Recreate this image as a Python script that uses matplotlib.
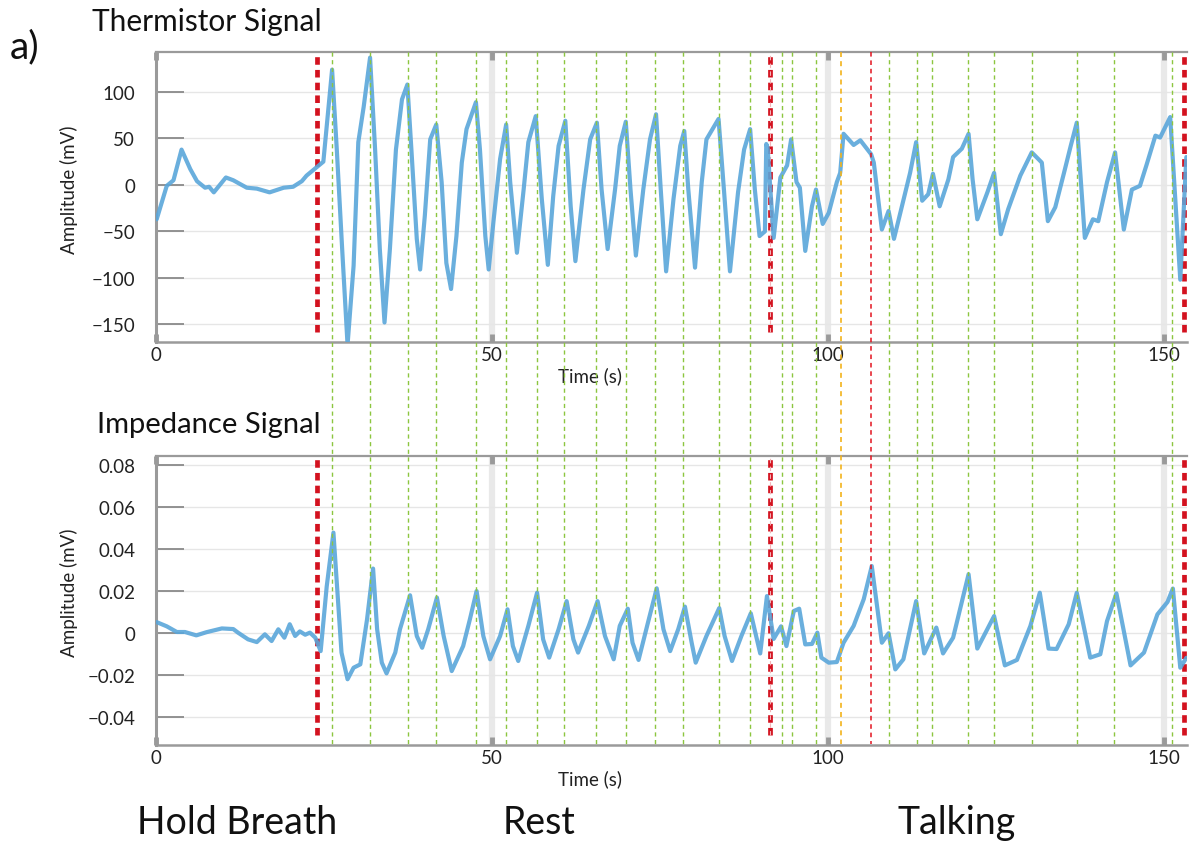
import matplotlib
matplotlib.use("Agg")
import matplotlib.pyplot as plt
from matplotlib.lines import Line2D
from matplotlib.transforms import blended_transform_factory

plt.rcParams['font.family'] = ['Lato', 'DejaVu Sans']

# ---------------- data ----------------
thermo_t = [0.1, 1.6, 2.6, 3.8, 5.1, 6.1, 7.3, 7.9, 8.6, 10.4, 11.5, 13.5, 15.0, 16.9, 19.0,
            20.4, 21.7, 22.4, 23.9, 24.9,
            26.2, 26.9, 27.7, 28.5, 29.4, 30.1, 30.9, 31.85, 32.6, 33.3, 34.0, 34.8, 35.7,
            36.6, 37.4, 38.0, 38.8, 39.3, 40.0, 40.8, 41.7, 42.5, 43.2, 43.9, 44.7, 45.5,
            46.2, 47.6, 48.2, 49.0, 49.5, 50.2, 51.2, 52.1, 52.7, 53.7, 54.7, 55.4, 56.5,
            57.4, 58.3, 59.1, 59.9, 60.9, 61.7, 62.4, 63.6, 64.6, 65.6, 66.3, 67.2, 68.3,
            69.0, 69.9, 70.6, 71.4, 72.5, 73.5, 74.4, 75.1, 75.9, 77.0, 78.0, 78.6, 79.2,
            80.2, 81.2, 81.9, 83.7, 84.5, 85.4, 86.6, 87.5, 88.4, 89.1, 89.8,
            90.6, 90.8, 91.0, 91.9, 92.9, 93.9, 94.5, 95.3, 95.8, 96.6, 97.6, 98.2, 99.2,
            100.1, 101.3, 101.8, 102.3, 103.8, 104.8, 106.4, 106.8, 108.0, 109.0, 109.8,
            112.2, 113.1, 114.0, 114.9, 115.6, 116.6, 117.9, 118.6, 119.9, 120.9, 121.5,
            122.2, 123.7, 124.7, 125.7, 126.8, 128.6, 130.3, 131.8, 132.7, 133.8, 135.1,
            136.1, 137.0, 138.2, 139.4, 140.2, 141.5, 142.7, 144.0, 145.2, 146.4, 147.4,
            148.7, 149.4, 150.9, 152.4, 153.3]
thermo_v = [-37, -1, 5, 38, 17, 4, -3, -2, -8, 8, 5, -3, -4, -8, -3,
            -2, 4, 10, 19, 25,
            124, 38, -69, -172, -87, 46, 84, 137, 38, -69, -148, -69, 38,
            92, 108, 38, -58, -91, -33, 49, 65, 3, -84, -112, -55, 24,
            60, 89, 38, -55, -91, -40, 28, 65, 3, -73, -5, 46, 74,
            -15, -86, -12, 42, 69, -23, -82, -5, 49, 67, -5, -69, -5,
            42, 68, -5, -76, -5, 49, 76, -5, -93, -15, 42, 58, -5,
            -89, 3, 49, 71, -5, -93, -8, 38, 60, -5, -55,
            -50, 44, 40, -57, 8, 21, 49, 3, -3, -71, -23, -5, -42,
            -30, 3, 13, 55, 43, 48, 33, 24, -48, -28, -58,
            13, 46, -17, -10, 12, -23, 6, 30, 39, 55, 6,
            -37, -8, 13, -53, -26, 10, 35, 24, -39, -24, 13,
            42, 67, -57, -37, -39, 3, 35, -48, -5, -1, 22,
            53, 51, 73, -102, 30]

imp_t = [0.1, 1.6, 3.1, 4.3, 6.0, 7.5, 9.8, 11.5, 12.2, 13.7, 15.0, 16.2, 17.2, 18.2, 19.1,
         19.9, 20.7, 21.4, 22.2, 22.9, 23.7, 24.5, 25.4, 26.4, 27.1, 27.6, 28.5, 29.4, 30.4,
         31.4, 32.3, 32.9, 33.6, 34.3, 35.6, 36.3, 37.8, 38.8, 39.6, 40.5, 41.8, 42.8, 44.0,
         45.7, 46.7, 47.7, 48.7, 49.7, 51.2, 52.3, 53.1, 53.9, 55.4, 56.7, 57.6, 58.5, 59.9,
         61.1, 62.1, 62.8, 64.4, 65.7, 66.8, 68.1, 69.0, 70.2, 70.9, 71.8, 73.2, 74.5, 75.5,
         76.5, 77.7, 78.7, 79.7, 80.3, 81.9, 83.8, 84.6, 85.7, 87.1, 88.5, 89.9,
         90.9, 91.9, 93.0, 93.8,
         94.9, 95.7, 96.6, 97.6, 98.4, 99.0, 100.1, 101.3, 102.3, 103.8, 105.3, 106.5, 108.0,
         109.0, 110.0, 111.2, 113.1, 114.3, 116.1, 117.1, 118.6, 120.9, 122.2, 124.7, 126.3,
         128.1, 130.1, 131.5, 132.8, 134.0, 135.8, 137.0, 139.0, 140.5, 141.5, 142.9, 145.0,
         147.0, 149.0, 150.5, 151.3, 152.4, 153.3]
imp_v = [0.005, 0.003, 0.0003, 0.0003, -0.0013, 0.0002, 0.002, 0.0017, 0.0, -0.0032, -0.0045,
         -0.0008, -0.004, 0.0016, -0.0024, 0.004, -0.0016, 0.0006, -0.001, 0.0, -0.0024,
         -0.0088, 0.022, 0.0476, 0.0143, -0.0095, -0.0222, -0.0167, -0.0151,
         0.0063, 0.0305, 0.0016, -0.0143, -0.0194, -0.0095, 0.0016, 0.0178, -0.0016, -0.0072,
         0.0016, 0.0167, -0.0016, -0.0183,
         -0.0064, 0.0063, 0.0198, -0.0016, -0.0127, -0.0016, 0.0111, -0.0064, -0.0135, 0.0032,
         0.019, -0.0032, -0.0119, 0.0016,
         0.015, -0.0032, -0.0095, 0.0032, 0.015, -0.0016, -0.0127, 0.0032, 0.0114, -0.0048,
         -0.013, 0.0048, 0.0211, 0.0016,
         -0.0088, 0.0016, 0.0124, -0.0048, -0.0143, -0.0016, 0.0117, -0.0016, -0.0135,
         -0.0016, 0.0092, -0.0099,
         0.0174, -0.003, 0.003, -0.0064,
         0.0103, 0.0114, -0.0056, -0.0054, 0.0, -0.0119, -0.0143, -0.014, -0.0048, 0.0032,
         0.0159, 0.0317, -0.0048, -0.0003,
         -0.0175, -0.0127, 0.015, -0.0099, 0.0024, -0.0099, -0.0024, 0.0278, -0.0076, 0.0079,
         -0.0156, -0.013, 0.0032, 0.019, -0.0076, -0.0078, 0.004, 0.019, -0.0119, -0.0103,
         0.0055, 0.0187, -0.0156, -0.0095, 0.0087, 0.0146, 0.021, -0.0167, -0.012]

breath_marks = [26.24, 31.85, 37.46, 41.62, 47.62, 52.08, 56.74, 60.76, 65.43, 69.94, 74.30,
                78.42, 83.74, 88.39, 93.15, 94.6, 98.21, 109.08, 113.24, 115.48, 120.88,
                124.66, 130.36, 137.0, 142.56, 151.19]
phase_bounds = [24.0, 91.4, 152.9]
orange_mark = 101.9
red_thin_mark = 106.35

x_ticks = [0, 50, 100, 150]
x_ticklabels = ['0', '50', '100', '150']
thermo_yticks = [-150, -100, -50, 0, 50, 100]
thermo_ylabels = ['\u2212150', '\u2212100', '\u221250', '0', '50', '100']
imp_yticks = [-0.04, -0.02, 0, 0.02, 0.04, 0.06, 0.08]
imp_ylabels = ['\u22120.04', '\u22120.02', '0', '0.02', '0.04', '0.06', '0.08']
phase_names = ['Hold Breath', 'Rest', 'Talking']

# ---------------- figure ----------------
W, H = 1196, 845
fig = plt.figure(figsize=(W / 100, H / 100), dpi=100)

def fx(px):
    return px / W

def fy(py):
    return 1 - py / H

ax1 = fig.add_axes([fx(156), fy(343), fx(1187) - fx(156), fy(53) - fy(343)])
ax2 = fig.add_axes([fx(156), fy(746), fx(1187) - fx(156), fy(457) - fy(746)])

line_col = '#5AA6DA'
red_col = '#D3121F'

for ax, t, v, yt, yl, ylim in [
        (ax1, thermo_t, thermo_v, thermo_yticks, thermo_ylabels, (-169, 143)),
        (ax2, imp_t, imp_v, imp_yticks, imp_ylabels, (-0.0535, 0.0841))]:
    ax.set_xlim(0, 153.4)
    ax.set_ylim(*ylim)
    ax.set_yticks(yt)
    ax.set_yticklabels(yl)
    ax.set_xticks(x_ticks)
    ax.set_xticklabels(x_ticklabels)
    ax.yaxis.grid(True, color='#e6e6e6', lw=1.0, zorder=0)
    ax.set_axisbelow(True)
    for xv in x_ticks[1:]:
        ax.axvline(xv, color='#e9e9e9', lw=4.5, zorder=0.5)
    ax.tick_params(axis='y', direction='in', length=20, width=1.3, color='#8a8a8a',
                   labelsize=13.5, pad=15, labelcolor='#222222')
    ax.tick_params(axis='x', direction='in', length=6, width=3.5, color='#9a9a9a',
                   top=True, labelsize=13.5, pad=3, labelcolor='#222222')
    ax.spines['right'].set_visible(False)
    ax.spines['left'].set_color('#9a9a9a')
    ax.spines['left'].set_linewidth(2.2)
    ax.spines['top'].set_color('#9a9a9a')
    ax.spines['top'].set_linewidth(1.6)
    ax.spines['bottom'].set_color('#9a9a9a')
    ax.spines['bottom'].set_linewidth(1.8)
    ax.set_ylabel('Amplitude (mV)', fontsize=13.5, color='#222222')
    ax.yaxis.set_label_coords(-0.076, 0.53)
    ax.set_xlabel('Time (s)', fontsize=13.5, color='#222222')
    ax.xaxis.set_label_coords(0.421, -0.085)

    # phase boundaries (thick red dotted)
    for i, xb in enumerate(phase_bounds):
        ax.axvline(xb, ymin=0.035, ymax=1.0, color=red_col, lw=3.4,
                   linestyle=(0, (1.6, 1.1)), zorder=3)
        if i == 1:
            ax.axvline(xb, ymin=0.035, ymax=1.0, color='#f2b3b6', lw=0.8,
                       linestyle=(0, (4, 3)), zorder=3.1)

    ax.plot(t, v, color=line_col, lw=3.0, alpha=0.9, solid_joinstyle='round',
            solid_capstyle='round', zorder=4)

# full-height marker lines spanning both panels
trans = blended_transform_factory(ax1.transData, fig.transFigure)
for xm in breath_marks:
    fig.add_artist(Line2D([xm, xm], [fy(53), fy(745)], transform=trans,
                          color='#8CC63F', lw=1.0, linestyle=(0, (3, 2.5)), zorder=2))
fig.add_artist(Line2D([orange_mark, orange_mark], [fy(53), fy(745)], transform=trans,
                      color='#F2B31B', lw=1.2, linestyle=(0, (3, 2.5)), zorder=2))
fig.add_artist(Line2D([red_thin_mark, red_thin_mark], [fy(53), fy(745)], transform=trans,
                      color='#E3141F', lw=1.1, linestyle=(0, (3, 2.5)), zorder=2))

# titles and labels
fig.text(fx(10), fy(58), 'a)', fontsize=28, color='#111111', ha='left', va='baseline')
fig.text(fx(92), fy(31), 'Thermistor Signal', fontsize=21.5, color='#111111',
         ha='left', va='baseline')
fig.text(fx(97), fy(433), 'Impedance Signal', fontsize=21, color='#111111',
         ha='left', va='baseline')
for name, xp in zip(phase_names, [137, 503, 897]):
    fig.text(fx(xp), fy(834), name, fontsize=27, color='#111111', ha='left', va='baseline')

fig.savefig('out.png', dpi=100)
